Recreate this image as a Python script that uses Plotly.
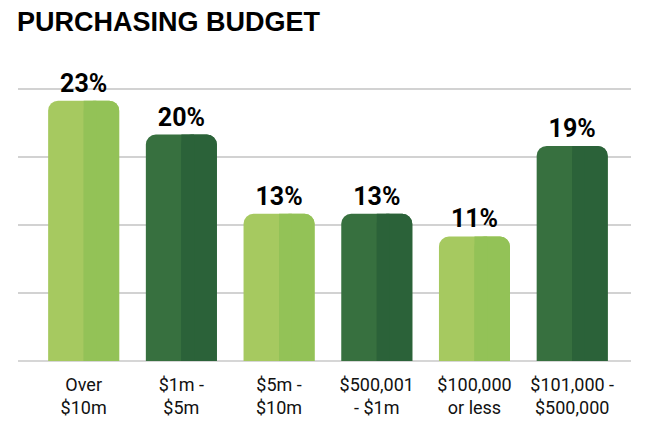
import plotly.graph_objects as go

categories = ["Over<br>$10m", "$1m -<br>$5m", "$5m -<br>$10m", "$500,001<br>- $1m", "$100,000<br>or less", "$101,000 -<br>$500,000"]
values = [23, 20, 13, 13, 11, 19]
value_labels = ["23%", "20%", "13%", "13%", "11%", "19%"]
left_colors = ["#a6c960", "#37703f", "#a6c960", "#37703f", "#a6c960", "#37703f"]
right_colors = ["#93c257", "#2b6239", "#93c257", "#2b6239", "#93c257", "#2b6239"]

BAR_W = 0.727
FONT = "Roboto"
FIG_W, FIG_H = 642, 417  # page adds an 8px body margin

fig = go.Figure()
# full bar (left tone), rounded top
fig.add_trace(go.Bar(
    x=categories, y=values, width=BAR_W, offset=-BAR_W / 2,
    marker=dict(color=left_colors, cornerradius=10, line=dict(width=0)),
    text=value_labels, textposition="outside", constraintext="none",
    textfont=dict(family=FONT, size=25, color="#000000", weight="bold"),
    cliponaxis=False, hoverinfo="skip",
))
# right half (right tone), rounded top
fig.add_trace(go.Bar(
    x=categories, y=values, width=BAR_W / 2, offset=0,
    marker=dict(color=right_colors, cornerradius=10, line=dict(width=0)),
    hoverinfo="skip",
))
# square strip to fill inner corner of right half
fig.add_trace(go.Bar(
    x=categories, y=values, width=0.13, offset=0,
    marker=dict(color=right_colors, cornerradius=0, line=dict(width=0)),
    hoverinfo="skip",
))

fig.update_layout(
    width=FIG_W, height=FIG_H,
    margin=dict(l=10, r=19, t=70, b=64, autoexpand=False),
    barmode="overlay",
    showlegend=False,
    paper_bgcolor="white", plot_bgcolor="white",
    title=dict(
        text="<b>PURCHASING BUDGET</b>",
        font=dict(family="Liberation Sans", size=27, color="#000000"),
        x=9 / FIG_W, xanchor="left", xref="container",
        y=1 - 14 / FIG_H, yanchor="middle", yref="container",
    ),
    font=dict(family=FONT),
)
fig.update_xaxes(
    type="category", range=[-0.672, 5.602], automargin=False,
    showgrid=False, showline=False, ticks="",
    tickfont=dict(family=FONT, size=18, color="#111111"),
    ticklabelstandoff=11,
)
fig.update_yaxes(
    range=[0, 25], dtick=6, tick0=0, automargin=False,
    showgrid=True, gridcolor="#d2d2d2", gridwidth=1.5,
    zeroline=True, zerolinecolor="#d6d6d6", zerolinewidth=2,
    showticklabels=False, ticks="", showline=False,
)

fig.write_html("out.html")
